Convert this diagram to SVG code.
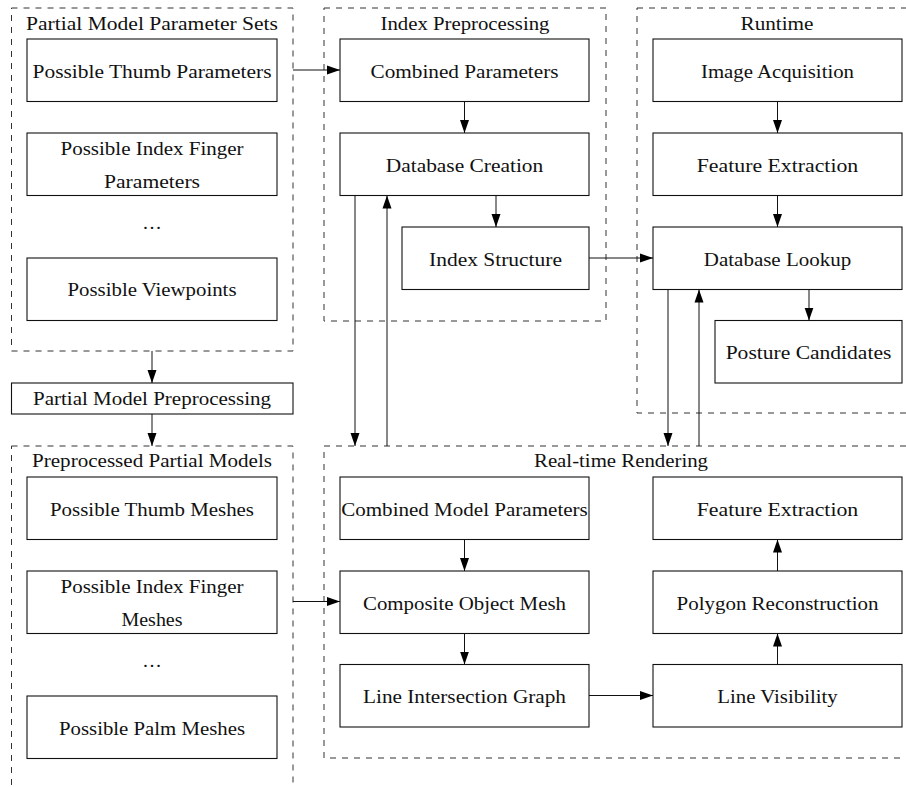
<svg xmlns="http://www.w3.org/2000/svg" width="906" height="787" viewBox="0 0 906 787">
<defs>
<marker id="ah" markerUnits="userSpaceOnUse" markerWidth="13" markerHeight="10" refX="13" refY="5" orient="auto">
<path d="M0,0.5 L13,5 L0,9.5 Z" fill="#000"/>
</marker>
</defs>
<style>
.box{fill:#fff;stroke:#111;stroke-width:1.1}
.grp{fill:none;stroke:#333;stroke-width:1;stroke-dasharray:6 6}
.t{font-family:"Liberation Serif","Times New Roman",serif;font-size:19.5px;fill:#111;text-anchor:middle}
.c{fill:none;stroke:#111;stroke-width:1;marker-end:url(#ah)}
</style>
<rect width="906" height="787" fill="#fff"/>

<g id="grp-param-sets">
<rect class="grp" x="11.5" y="8" width="281.5" height="343"/>
<text class="t" x="152" y="30" textLength="252" lengthAdjust="spacingAndGlyphs">Partial Model Parameter Sets</text>
</g>
<g id="grp-index-pre">
<rect class="grp" x="324" y="8" width="282" height="313"/>
<text class="t" x="465" y="30" textLength="169" lengthAdjust="spacingAndGlyphs">Index Preprocessing</text>
</g>
<g id="grp-runtime">
<rect class="grp" x="637" y="8" width="280" height="405"/>
<text class="t" x="777" y="30" textLength="73" lengthAdjust="spacingAndGlyphs">Runtime</text>
</g>
<g id="grp-preprocessed">
<rect class="grp" x="11.5" y="446" width="281.5" height="380"/>
<text class="t" x="152" y="467" textLength="240" lengthAdjust="spacingAndGlyphs">Preprocessed Partial Models</text>
</g>
<g id="grp-realtime">
<rect class="grp" x="324" y="446" width="594" height="312"/>
<text class="t" x="621" y="467" textLength="174" lengthAdjust="spacingAndGlyphs">Real-time Rendering</text>
</g>

<g id="n-thumb-params">
<rect class="box" x="27" y="39" width="250" height="62.5"/>
<text class="t" x="152" y="78" textLength="239" lengthAdjust="spacingAndGlyphs">Possible Thumb Parameters</text>
</g>
<g id="n-index-params">
<rect class="box" x="27" y="133" width="250" height="62.5"/>
<text class="t" x="152" y="154.5" textLength="183" lengthAdjust="spacingAndGlyphs">Possible Index Finger</text>
<text class="t" x="152" y="187.5" textLength="96" lengthAdjust="spacingAndGlyphs">Parameters</text>
</g>
<g id="n-dots-1">
<text class="t" x="152" y="229" font-size="21">…</text>
</g>
<g id="n-viewpoints">
<rect class="box" x="27" y="258" width="250" height="62.5"/>
<text class="t" x="152" y="296" textLength="169" lengthAdjust="spacingAndGlyphs">Possible Viewpoints</text>
</g>

<g id="n-pmp">
<rect class="box" x="11.5" y="383" width="281.5" height="31"/>
<text class="t" x="152" y="405" textLength="238" lengthAdjust="spacingAndGlyphs">Partial Model Preprocessing</text>
</g>

<g id="n-thumb-meshes">
<rect class="box" x="27" y="477" width="250" height="62.5"/>
<text class="t" x="152" y="515.5" textLength="204" lengthAdjust="spacingAndGlyphs">Possible Thumb Meshes</text>
</g>
<g id="n-index-meshes">
<rect class="box" x="27" y="571" width="250" height="62.5"/>
<text class="t" x="152" y="592.5" textLength="183" lengthAdjust="spacingAndGlyphs">Possible Index Finger</text>
<text class="t" x="152" y="625.5" textLength="61" lengthAdjust="spacingAndGlyphs">Meshes</text>
</g>
<g id="n-dots-2">
<text class="t" x="152" y="667" font-size="21">…</text>
</g>
<g id="n-palm-meshes">
<rect class="box" x="27" y="696" width="250" height="62.5"/>
<text class="t" x="152" y="734.5" textLength="186" lengthAdjust="spacingAndGlyphs">Possible Palm Meshes</text>
</g>

<g id="n-combined-params">
<rect class="box" x="340" y="39" width="249" height="62.5"/>
<text class="t" x="464.5" y="78" textLength="188" lengthAdjust="spacingAndGlyphs">Combined Parameters</text>
</g>
<g id="n-db-creation">
<rect class="box" x="340" y="133" width="249" height="62.5"/>
<text class="t" x="464.5" y="171.5" textLength="157.5" lengthAdjust="spacingAndGlyphs">Database Creation</text>
</g>
<g id="n-index-structure">
<rect class="box" x="402" y="227" width="187" height="62.5"/>
<text class="t" x="495.5" y="265.5" textLength="133" lengthAdjust="spacingAndGlyphs">Index Structure</text>
</g>

<g id="n-image-acq">
<rect class="box" x="653" y="39" width="249" height="62.5"/>
<text class="t" x="777.5" y="78" textLength="153" lengthAdjust="spacingAndGlyphs">Image Acquisition</text>
</g>
<g id="n-feature-ext-1">
<rect class="box" x="653" y="133" width="249" height="62.5"/>
<text class="t" x="777.5" y="171.5" textLength="161.5" lengthAdjust="spacingAndGlyphs">Feature Extraction</text>
</g>
<g id="n-db-lookup">
<rect class="box" x="653" y="227" width="249" height="62.5"/>
<text class="t" x="777.5" y="265.5" textLength="147.5" lengthAdjust="spacingAndGlyphs">Database Lookup</text>
</g>
<g id="n-posture">
<rect class="box" x="715" y="320.5" width="187" height="62.5"/>
<text class="t" x="808.5" y="359" textLength="165.7" lengthAdjust="spacingAndGlyphs">Posture Candidates</text>
</g>

<g id="n-combined-model">
<rect class="box" x="340" y="477" width="249" height="62.5"/>
<text class="t" x="464.5" y="515.5" textLength="246.6" lengthAdjust="spacingAndGlyphs">Combined Model Parameters</text>
</g>
<g id="n-composite">
<rect class="box" x="340" y="571" width="249" height="62.5"/>
<text class="t" x="464.5" y="609.5" textLength="203" lengthAdjust="spacingAndGlyphs">Composite Object Mesh</text>
</g>
<g id="n-line-int">
<rect class="box" x="340" y="664.5" width="249" height="62.5"/>
<text class="t" x="464.5" y="703" textLength="203" lengthAdjust="spacingAndGlyphs">Line Intersection Graph</text>
</g>
<g id="n-feature-ext-2">
<rect class="box" x="653" y="477" width="249" height="62.5"/>
<text class="t" x="777.5" y="515.5" textLength="161.5" lengthAdjust="spacingAndGlyphs">Feature Extraction</text>
</g>
<g id="n-polygon">
<rect class="box" x="653" y="571" width="249" height="62.5"/>
<text class="t" x="777.5" y="609.5" textLength="202" lengthAdjust="spacingAndGlyphs">Polygon Reconstruction</text>
</g>
<g id="n-line-vis">
<rect class="box" x="653" y="664.5" width="249" height="62.5"/>
<text class="t" x="777.5" y="703" textLength="120.5" lengthAdjust="spacingAndGlyphs">Line Visibility</text>
</g>

<g id="connectors">
<path class="c" d="M293,70 H340"/>
<path class="c" d="M464.5,101.5 V133"/>
<path class="c" d="M496,195.5 V227"/>
<path class="c" d="M589,258 H653"/>
<path class="c" d="M777.5,101.5 V133"/>
<path class="c" d="M777.5,195.5 V227"/>
<path class="c" d="M809,289.5 V320.5"/>
<path class="c" d="M355,195.5 V446"/>
<path class="c" d="M387,446 V195.5"/>
<path class="c" d="M668,289.5 V446"/>
<path class="c" d="M699,446 V289.5"/>
<path class="c" d="M152,351 V383"/>
<path class="c" d="M152,414 V446"/>
<path class="c" d="M293,601.5 H340"/>
<path class="c" d="M464.5,539.5 V571"/>
<path class="c" d="M464.5,633.5 V664.5"/>
<path class="c" d="M589,695.5 H653"/>
<path class="c" d="M777.5,664.5 V633.5"/>
<path class="c" d="M777.5,571 V539.5"/>
</g>
</svg>
